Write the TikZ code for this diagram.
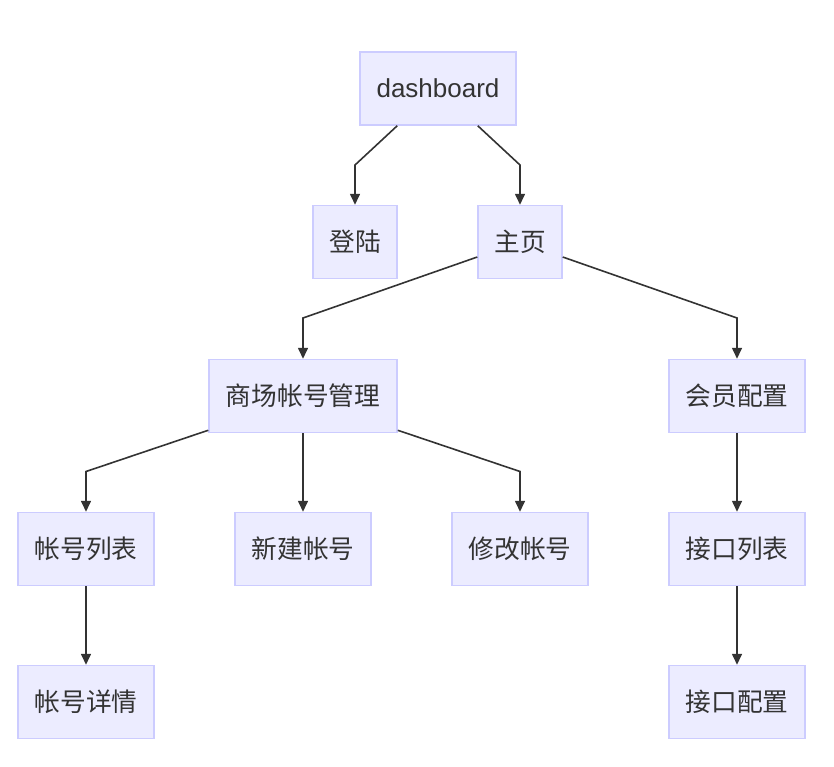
\documentclass[tikz,border=0pt]{standalone}
\usepackage{fontspec}
\setmainfont{Liberation Sans}
\newfontfamily\cjk{Noto Sans CJK SC}
\usetikzlibrary{arrows.meta}
\definecolor{nodefill}{HTML}{ECECFF}
\definecolor{nodeline}{HTML}{CCCCFF}
\definecolor{edgecol}{HTML}{333333}
\begin{document}
\begin{tikzpicture}[x=1pt,y=-1pt,
  box/.style={draw=nodeline,fill=nodefill,line width=1.5pt,minimum height=73pt,inner sep=0pt,text=edgecol,font=\fontsize{26}{30}\selectfont},
  cbox/.style={box,font=\fontsize{25.7}{30}\selectfont\cjk},
  edge/.style={draw=edgecol,line width=1.6pt,-{Triangle[length=11pt,width=10pt]}}]
\useasboundingbox (0,0) rectangle (834,766);
\node[box,minimum width=156pt] (dash) at (438,88.5) {dashboard};
\node[cbox,minimum width=84pt] (login) at (355,242) {登陆};
\node[cbox,minimum width=84pt] (home) at (520,242) {主页};
\node[cbox,minimum width=188pt] (mall) at (303,396) {商场帐号管理};
\node[cbox,minimum width=136pt] (member) at (737,396) {会员配置};
\node[cbox,minimum width=136pt] (alist) at (86,549) {帐号列表};
\node[cbox,minimum width=136pt] (anew) at (303,549) {新建帐号};
\node[cbox,minimum width=136pt] (aedit) at (520,549) {修改帐号};
\node[cbox,minimum width=136pt] (ilist) at (737,549) {接口列表};
\node[cbox,minimum width=136pt] (adetail) at (86,702) {帐号详情};
\node[cbox,minimum width=136pt] (iconf) at (737,702) {接口配置};

\draw[edge] ([xshift=38pt]dash.south west) -- (login.north |- 0,165) -- (login.north);
\draw[edge] ([xshift=-39pt]dash.south east) -- (home.north |- 0,165) -- (home.north);
\draw[edge] ([yshift=-15pt]home.west) -- (mall.north |- 0,318) -- (mall.north);
\draw[edge] ([yshift=-15pt]home.east) -- (member.north |- 0,318) -- (member.north);
\draw[edge] ([yshift=3pt]mall.south west) -- (alist.north |- 0,471.5) -- (alist.north);
\draw[edge] (mall.south) -- (anew.north);
\draw[edge] ([yshift=3pt]mall.south east) -- (aedit.north |- 0,471.5) -- (aedit.north);
\draw[edge] (member.south) -- (ilist.north);
\draw[edge] (alist.south) -- (adetail.north);
\draw[edge] (ilist.south) -- (iconf.north);
\end{tikzpicture}
\end{document}
